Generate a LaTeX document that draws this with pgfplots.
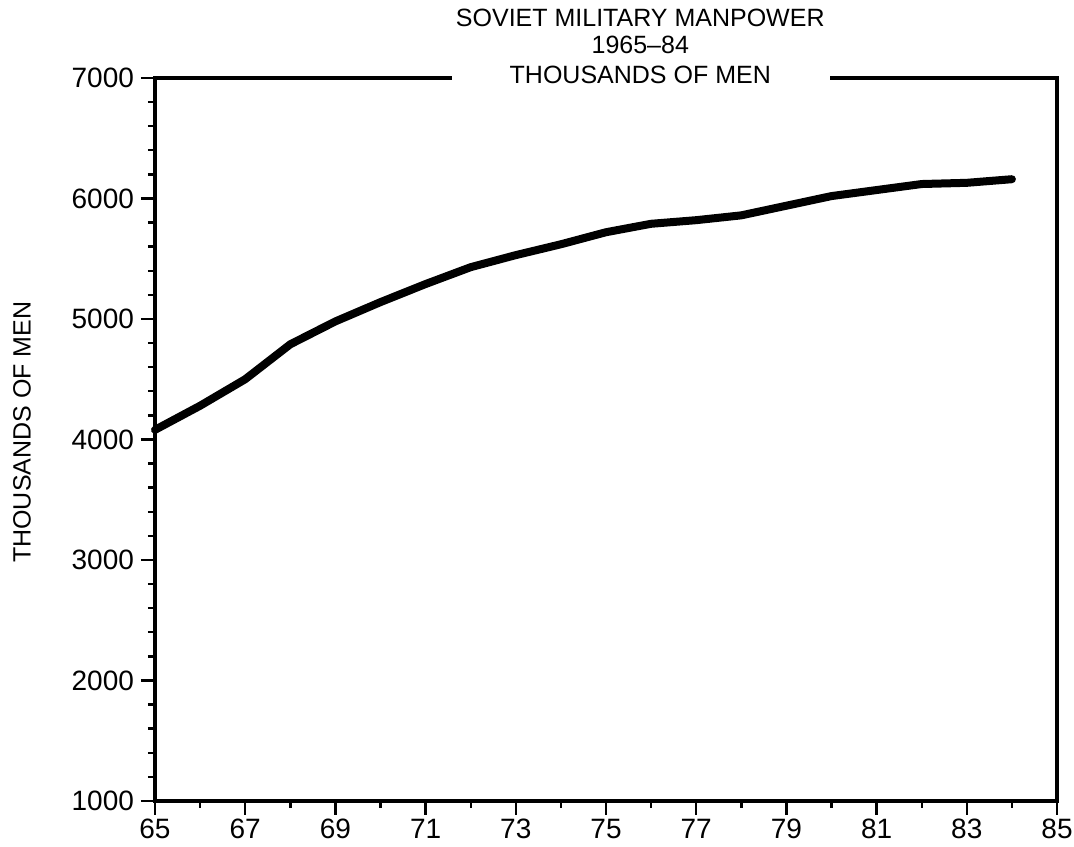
\documentclass[border=0pt]{standalone}
\usepackage{fontspec}
\setmainfont{Liberation Sans}
\usepackage{pgfplots}
\pgfplotsset{compat=1.18}

\begin{document}
\begin{tikzpicture}
  \begin{axis}[
      scale only axis,
      width=451pt, height=361.5pt,
      xmin=65, xmax=85,
      ymin=1000, ymax=7000,
      axis line style={line width=2pt},
      xtick={65,67,...,85},
      ytick={1000,2000,...,7000},
      minor x tick num=1,
      minor y tick num=4,
      tick align=outside,
      xtick pos=bottom, ytick pos=left,
      major tick length=7pt,
      minor tick length=3.5pt,
      every tick/.style={black, line width=1.2pt},
      /pgf/number format/assume math mode=true,
      /pgf/number format/1000 sep={},
      tick label style={font=\fontsize{14}{16}\selectfont},
      xticklabel style={yshift=1.5pt},
      ylabel={THOUSANDS OF MEN},
      ylabel style={font=\fontsize{12.5}{14}\selectfont,
                    at={(axis description cs:-0.1475,0.51)}, anchor=center},
      clip=false,
    ]
    \addplot[black, line width=4pt, line join=round, line cap=round] coordinates {
      (65,4080) (66,4280) (67,4500) (68,4790) (69,4980) (70,5140)
      (71,5290) (72,5430) (73,5530) (74,5620) (75,5720) (76,5790)
      (77,5820) (78,5860) (79,5940) (80,6020) (81,6070) (82,6120)
      (83,6130) (84,6160)
    };
    \coordinate (ll) at (rel axis cs:0,0);
    \coordinate (ur) at (rel axis cs:1,1);
    \coordinate (gapl) at (rel axis cs:0.329,1);
    \coordinate (gapr) at (rel axis cs:0.748,1);
    \coordinate (tc) at (rel axis cs:0.538,1);
  \end{axis}
  \fill[white] ([yshift=-3pt]gapl) rectangle ([yshift=3pt]gapr);
  \begin{scope}[every node/.style={font=\fontsize{12.5}{14}\selectfont, anchor=center}]
    \node at ([yshift=30pt]tc) {SOVIET MILITARY MANPOWER};
    \node at ([yshift=16.5pt]tc) {1965--84};
    \node at ([yshift=1.5pt]tc) {THOUSANDS OF MEN};
  \end{scope}
  \pgfresetboundingbox
  \path ([shift={(-77.5pt,-23pt)}]ll) rectangle ([shift={(8.5pt,39pt)}]ur);
\end{tikzpicture}
\end{document}
